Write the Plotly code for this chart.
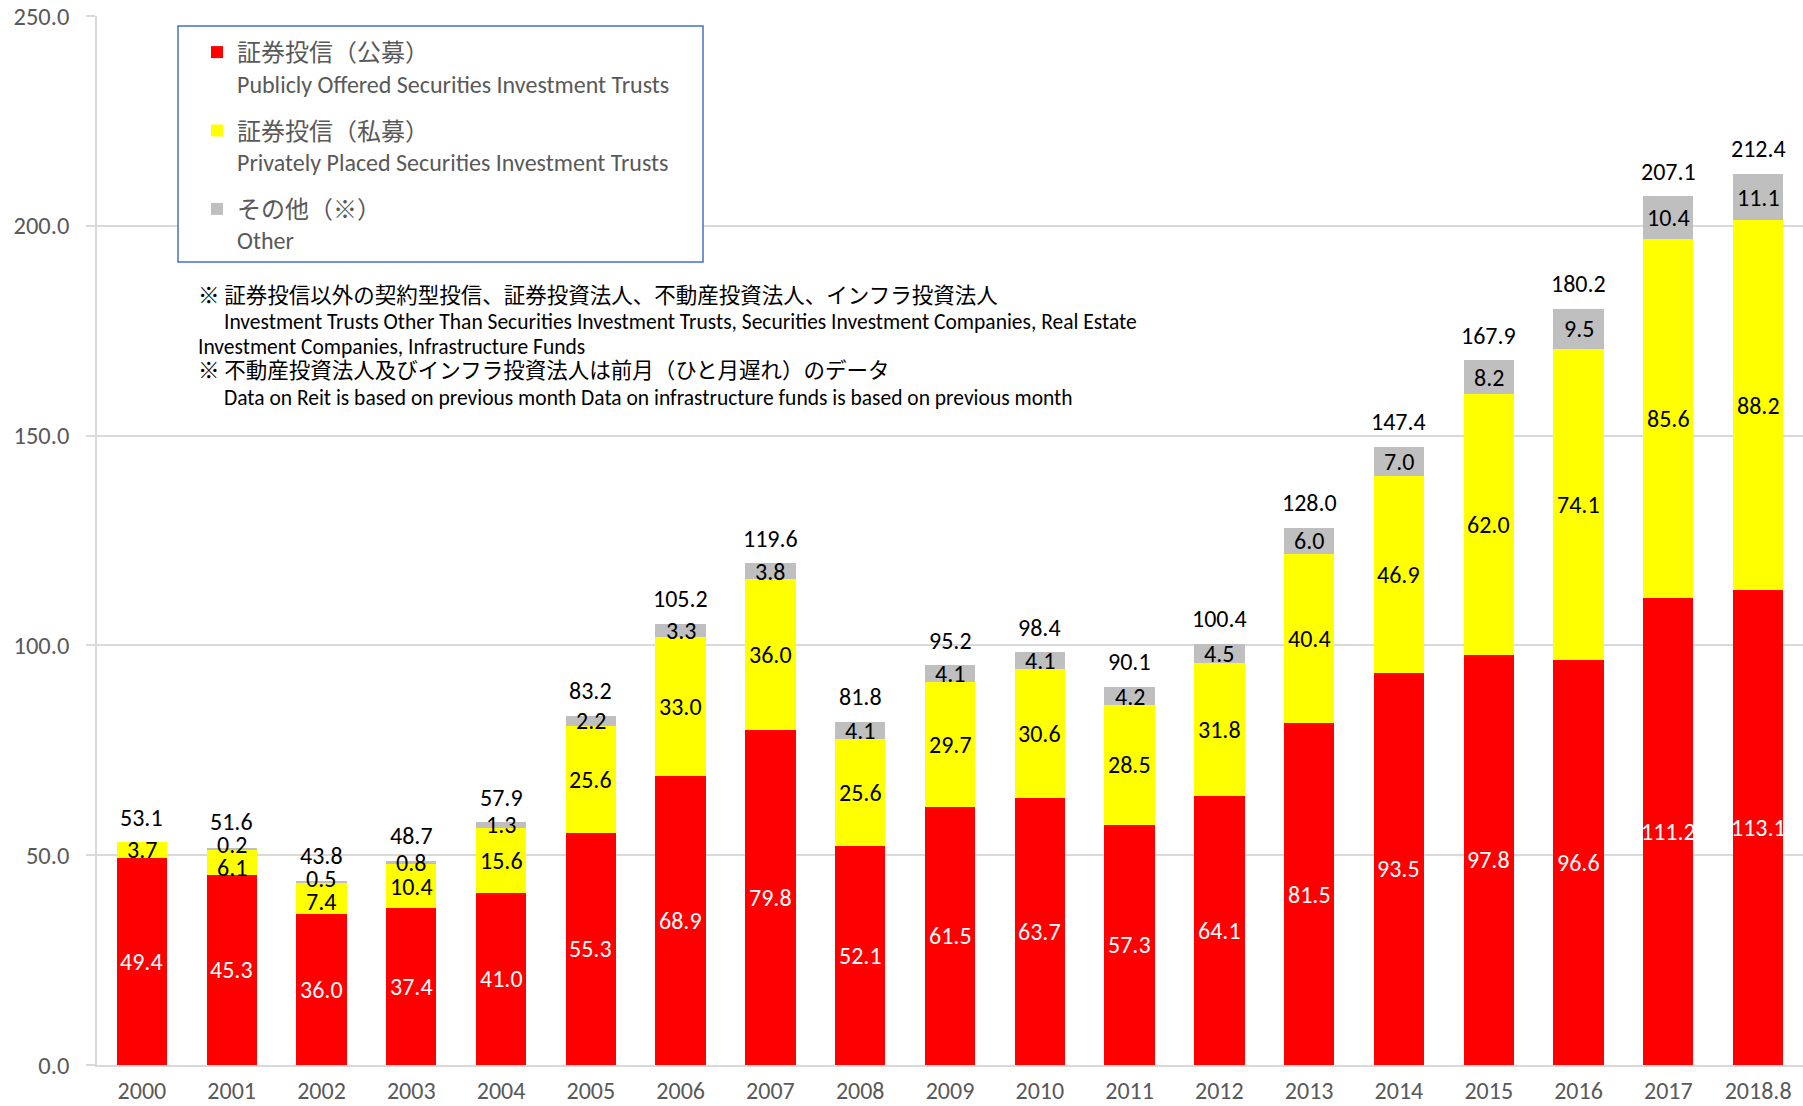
import plotly.graph_objects as go

categories = ["2000", "2001", "2002", "2003", "2004", "2005", "2006", "2007", "2008", "2009",
              "2010", "2011", "2012", "2013", "2014", "2015", "2016", "2017", "2018.8"]
public_offered = [49.4, 45.3, 36.0, 37.4, 41.0, 55.3, 68.9, 79.8, 52.1, 61.5,
                  63.7, 57.3, 64.1, 81.5, 93.5, 97.8, 96.6, 111.2, 113.1]
private_placed = [3.7, 6.1, 7.4, 10.4, 15.6, 25.6, 33.0, 36.0, 25.6, 29.7,
                  30.6, 28.5, 31.8, 40.4, 46.9, 62.0, 74.1, 85.6, 88.2]
other = [0.0, 0.2, 0.5, 0.8, 1.3, 2.2, 3.3, 3.8, 4.1, 4.1,
         4.1, 4.2, 4.5, 6.0, 7.0, 8.2, 9.5, 10.4, 11.1]
totals = [53.1, 51.6, 43.8, 48.7, 57.9, 83.2, 105.2, 119.6, 81.8, 95.2,
          98.4, 90.1, 100.4, 128.0, 147.4, 167.9, 180.2, 207.1, 212.4]

series_names = [
    "証券投信（公募）<br>Publicly Offered Securities Investment Trusts",
    "証券投信（私募）<br>Privately Placed Securities Investment Trusts",
    "その他（※）<br>Other",
]
note_lines = [
    "※ 証券投信以外の契約型投信、証券投資法人、不動産投資法人、インフラ投資法人",
    "Investment Trusts Other Than Securities Investment Trusts, Securities Investment Companies, Real Estate",
    "Investment Companies, Infrastructure Funds",
    "※ 不動産投資法人及びインフラ投資法人は前月（ひと月遅れ）のデータ",
    "Data on Reit is based on previous month Data on infrastructure funds is based on previous month",
]

FONT = "Carlito, Calibri, 'Noto Sans CJK JP', sans-serif"
GRAY_TXT = "#595959"
GRID = "#D9D9D9"
YMAX = 250

L, R, T, B = 97, 0, 16, 41
W, H = 1803, 1106
pw, ph = W - L - R, H - T - B
units_per_px = YMAX / ph


def px(x):
    return (x - L) / pw


def py(y):
    return (H - B - y) / ph


fig = go.Figure()
specs = [
    (public_offered, "#FF0000", "white"),
    (private_placed, "#FFFF00", "black"),
    (other, "#BFBFBF", "black"),
]
for i, (vals, color, tcolor) in enumerate(specs):
    fig.add_trace(go.Bar(
        x=categories, y=vals, name=series_names[i], legendgroup=f"g{i}",
        marker=dict(color=color, line=dict(width=0)),
        hoverinfo="x+y",
    ))

# data labels: centred in each segment, nudged apart where they would collide
min_sep = 23 * units_per_px
total_offset = 25 * units_per_px
for idx in range(len(categories)):
    labs = []
    base = 0.0
    for vals, _, tcolor in specs:
        v = vals[idx]
        if v > 0:
            labs.append([base + v / 2, f"{v:.1f}", tcolor])
        base += v
    labs.append([totals[idx] + total_offset, f"{totals[idx]:.1f}", "black"])
    for _ in range(4):
        for k in range(len(labs) - 1):
            lo, hi = labs[k], labs[k + 1]
            if hi[0] - lo[0] < min_sep:
                mid = (hi[0] + lo[0]) / 2
                lo[0], hi[0] = mid - min_sep / 2, mid + min_sep / 2
    for yv, txt, col in labs:
        fig.add_annotation(x=idx, y=yv, text=txt, showarrow=False, yanchor="middle",
                           font=dict(family=FONT, size=24, color=col))

note_pos = [(196, 296), (222, 322), (196, 347), (196, 371), (222, 398)]
for line, (nx, ny) in zip(note_lines, note_pos):
    fig.add_annotation(xref="paper", yref="paper", x=px(nx), y=py(ny), text=line,
                       showarrow=False, xanchor="left", yanchor="middle",
                       font=dict(family=FONT, size=21.5, color="black"))

# legend frame
fig.add_shape(type="rect", xref="paper", yref="paper", x0=px(178), x1=px(703),
              y0=py(262), y1=py(26), line=dict(color="#4472C4", width=1.5),
              fillcolor="white", layer="above")

fig.update_layout(
    width=W, height=H,
    margin=dict(l=L, r=R, t=T, b=B, pad=0, autoexpand=False),
    barmode="stack", bargap=0.44,
    plot_bgcolor="white", paper_bgcolor="white",
    font=dict(family=FONT, size=23, color=GRAY_TXT),
    legend=dict(x=px(197), y=py(30), xanchor="left", yanchor="top",
                traceorder="grouped", tracegroupgap=13, valign="top",
                bgcolor="rgba(0,0,0,0)", borderwidth=0,
                font=dict(family=FONT, size=24, color=GRAY_TXT)),
    xaxis=dict(type="category", range=[-0.5, len(categories) - 0.5], automargin=False,
               showline=True, linecolor=GRID, linewidth=1.5,
               ticks="", tickfont=dict(family=FONT, size=24, color=GRAY_TXT),
               ticklabelstandoff=3),
    yaxis=dict(range=[0, YMAX], dtick=50, tickformat=".1f", showgrid=True, automargin=False,
               gridcolor=GRID, gridwidth=1.5, zeroline=False,
               showline=True, linecolor=GRID, linewidth=1.5,
               ticks="outside", ticklen=9, tickcolor=GRID, tickwidth=1.5,
               tickfont=dict(family=FONT, size=24.5, color=GRAY_TXT),
               ticklabelstandoff=12),
    showlegend=True,
)

fig.write_html("out.html", config={"displayModeBar": False},
               post_script="document.body.style.margin='0';document.body.style.overflow='hidden';")
